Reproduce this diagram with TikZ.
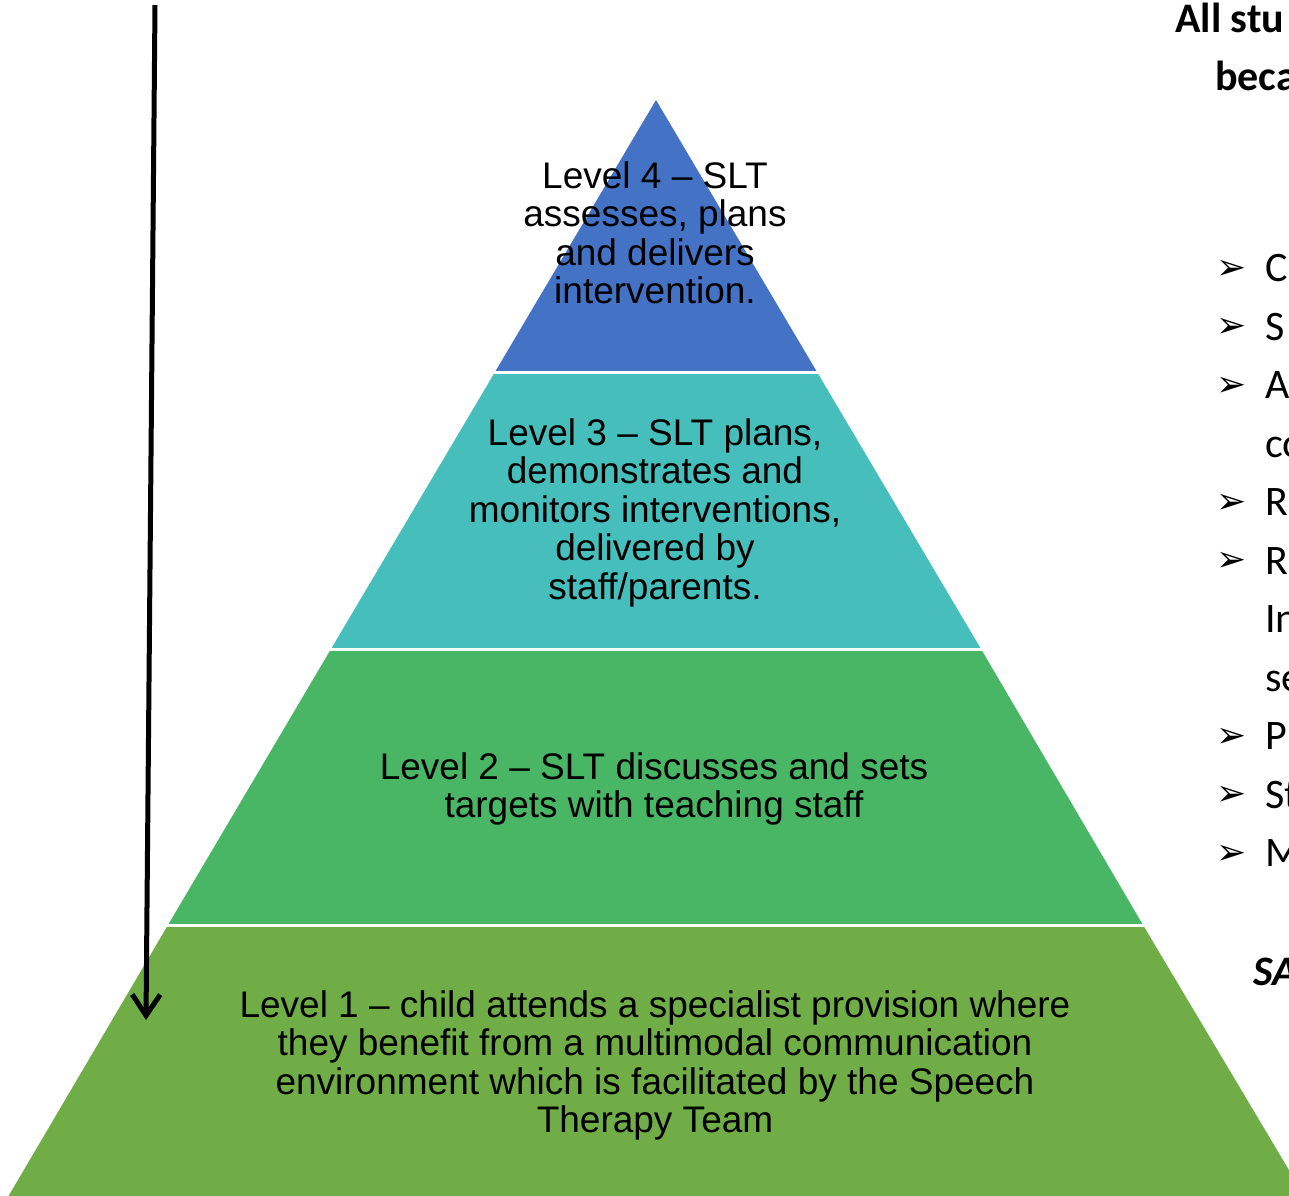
\documentclass[tikz,border=0pt]{standalone}
\usepackage{fontspec}
\setmainfont{Liberation Sans}
\newfontfamily\calib{Carlito}
\newfontfamily\dvs{DejaVu Sans}
\usetikzlibrary{arrows.meta}
\definecolor{lvlfour}{RGB}{68,114,196}
\definecolor{lvlthree}{RGB}{70,190,187}
\definecolor{lvltwo}{RGB}{72,182,100}
\definecolor{lvlone}{RGB}{112,173,71}
\begin{document}
\begin{tikzpicture}[x=1pt,y=-1pt,
  lvltext/.style={align=center, inner sep=0pt, anchor=base, font=\fontsize{37}{38.5}\selectfont},
  sidetext/.style={anchor=base west, inner sep=0pt, font=\calib\fontsize{42}{50}\selectfont},
  sidehead/.style={anchor=base west, inner sep=0pt, font=\calib\bfseries\fontsize{42}{50}\selectfont},
  bul/.style={anchor=base west, inner sep=0pt, font=\dvs\fontsize{36}{40}\selectfont},
  sep/.style={white, line width=3pt}
]
\useasboundingbox (0,0) rectangle (1289,1195);
\fill[white] (0,0) rectangle (1289,1195);
% pyramid layers
\fill[lvlfour] (656,100) -- (495,372) -- (817,372) -- cycle;
\fill[lvlthree] (495,372) -- (331,649) -- (981,649) -- (817,372) -- cycle;
\fill[lvltwo] (331,649) -- (168,925) -- (1143,925) -- (981,649) -- cycle;
\fill[lvlone] (168,925) -- (5,1202) -- (1308,1202) -- (1143,925) -- cycle;
\draw[sep] (490,372) -- (822,372);
\draw[sep] (326,649) -- (986,649);
\draw[sep] (163,925) -- (1148,925);
% labels (anchored at the baseline of their last line)
\node[lvltext] (l4) at (655,303.5) {Level 4 – SLT\\assesses, plans\\and delivers\\intervention.};
\node[lvltext] (l3) at (655,599) {Level 3 – SLT plans,\\demonstrates and\\monitors interventions,\\delivered by\\staff/parents.};
\node[lvltext] (l2) at (654,817.5) {Level 2 – SLT discusses and sets\\targets with teaching staff};
\node[lvltext] (l1) at (655,1132.5) {Level 1 – child attends a specialist provision where\\they benefit from a multimodal communication\\environment which is facilitated by the Speech\\Therapy Team};
% arrow
\coordinate (atop) at (155,5);
\coordinate (abot) at (146,1020);
\draw[line width=5pt, -{Straight Barb[length=21pt,width=28pt]}] (atop) -- (abot);
% right side text
\node[sidehead] (h1) at (1175,32) {All stu};
\node[sidehead] (h2) at (1215,90) {beca};
\node[sidehead, font=\calib\bfseries\itshape\fontsize{42}{50}\selectfont] (sa) at (1253,985) {SA};
\foreach \i/\t/\b in {0/C/1,1/S/1,2/A/1,3/co/0,4/R/1,5/R/1,6/In/0,7/se/0,8/P/1,9/St/1,10/M/1}{
  \node[sidetext] (s\i) at (1265,281.5+58.5*\i) {\t};
  \ifnum\b=1 \node[bul] (b\i) at (1216,279+58.5*\i) {➢}; \fi
}
\end{tikzpicture}
\end{document}
